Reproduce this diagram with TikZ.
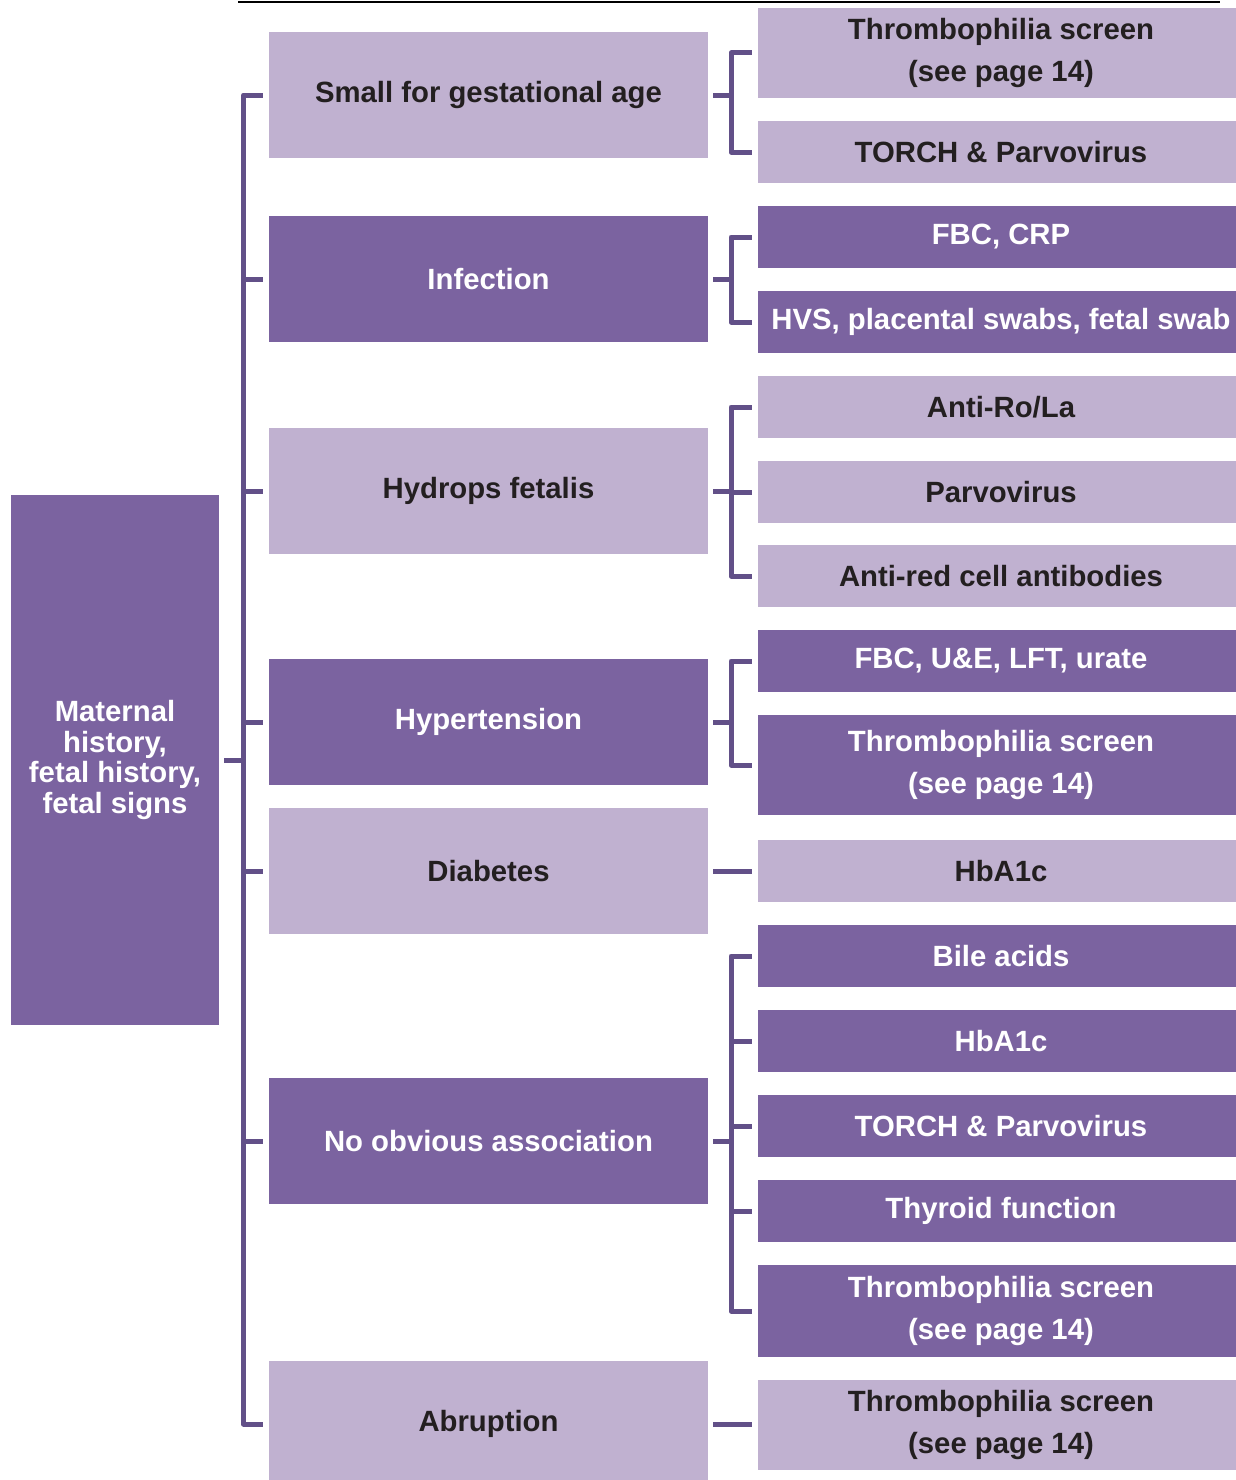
\documentclass[tikz,border=0pt]{standalone}
\usepackage{fontspec}
\setmainfont{Liberation Sans}
\definecolor{darkp}{RGB}{123,99,160}
\definecolor{lightp}{RGB}{192,177,208}
\definecolor{linep}{RGB}{98,80,136}
\definecolor{txt}{RGB}{35,31,32}
\begin{document}
\begin{tikzpicture}[x=1pt,y=-1pt,
  base/.style={inner sep=0pt, align=center, font=\bfseries\fontsize{29.3}{42}\selectfont},
  lightbox/.style={base, fill=lightp, text=txt},
  darkbox/.style={base, fill=darkp, text=white},
  midbox/.style={minimum width=439pt, minimum height=126pt},
  rbox/.style={minimum width=486pt, minimum height=62pt},
  conn/.style={draw=linep, line width=5pt, line join=round}]
\useasboundingbox (0,0) rectangle (1236,1480);
\draw[black, line width=2pt] (238,2) -- (1220,2);
% left box
\node[darkbox, minimum width=208pt, minimum height=530pt, font=\bfseries\fontsize{29.3}{30.5}\selectfont] (root) at (115,760) {Maternal\\history,\\fetal history,\\fetal signs};
% middle boxes
\node[lightbox, midbox] (sga) at (488.5,95) {Small for gestational age};
\node[darkbox, midbox] (inf) at (488.5,279) {Infection};
\node[lightbox, midbox] (hyd) at (488.5,491) {Hydrops fetalis};
\node[darkbox, midbox] (hyp) at (488.5,722) {Hypertension};
\node[lightbox, midbox] (dia) at (488.5,871) {Diabetes};
\node[darkbox, midbox] (noa) at (488.5,1141) {No obvious association};
\node[lightbox, midbox] (abr) at (488.5,1424) {Abruption};
% right boxes
\node[lightbox, rbox, minimum height=90pt] (r1) at (1001,53) {Thrombophilia screen\\(see page 14)};
\node[lightbox, rbox] (r2) at (1001,152) {TORCH \& Parvovirus};
\node[darkbox, rbox] (r3) at (1001,237) {FBC, CRP};
\node[darkbox, rbox] (r4) at (1001,322) {HVS, placental swabs, fetal swab};
\node[lightbox, rbox] (r5) at (1001,407) {Anti-Ro/La};
\node[lightbox, rbox] (r6) at (1001,492) {Parvovirus};
\node[lightbox, rbox] (r7) at (1001,576) {Anti-red cell antibodies};
\node[darkbox, rbox] (r8) at (1001,661) {FBC, U\&E, LFT, urate};
\node[darkbox, rbox, minimum height=100pt] (r9) at (1001,765) {Thrombophilia screen\\(see page 14)};
\node[lightbox, rbox] (r10) at (1001,871) {HbA1c};
\node[darkbox, rbox] (r11) at (1001,956) {Bile acids};
\node[darkbox, rbox] (r12) at (1001,1041) {HbA1c};
\node[darkbox, rbox] (r13) at (1001,1126) {TORCH \& Parvovirus};
\node[darkbox, rbox] (r14) at (1001,1211) {Thyroid function};
\node[darkbox, rbox, minimum height=92pt] (r15) at (1001,1311) {Thrombophilia screen\\(see page 14)};
\node[lightbox, rbox, minimum height=90pt] (r16) at (1001,1425) {Thrombophilia screen\\(see page 14)};
% spines
\coordinate (ms) at (243.5,0);
\coordinate (rs) at (731,0);
% main bracket
\draw[conn] ([xshift=5pt]root.east) -- (root.east -| ms);
\draw[conn] ([xshift=-6pt]sga.west) -- (sga.west -| ms) -- (abr.west -| ms) -- ([xshift=-6pt]abr.west);
\foreach \n in {inf,hyd,hyp,dia,noa}
  \draw[conn] (\n.west -| ms) -- ([xshift=-6pt]\n.west);
% right brackets
\foreach \m/\a/\b in {sga/r1/r2, inf/r3/r4, hyd/r5/r7, hyp/r8/r9, noa/r11/r15}{
  \draw[conn] ([xshift=5pt]\m.east) -- (\m.east -| rs);
  \draw[conn] ([xshift=-6pt]\a.west) -- (\a.west -| rs) -- (\b.west -| rs) -- ([xshift=-6pt]\b.west);
}
\foreach \c in {r6, r12, r13, r14}
  \draw[conn] (\c.west -| rs) -- ([xshift=-6pt]\c.west);
\draw[conn] ([xshift=5pt]dia.east) -- ([xshift=-6pt]r10.west);
\draw[conn] ([xshift=5pt]abr.east) -- ([xshift=-6pt]abr.east -| r16.west);
\end{tikzpicture}
\end{document}
